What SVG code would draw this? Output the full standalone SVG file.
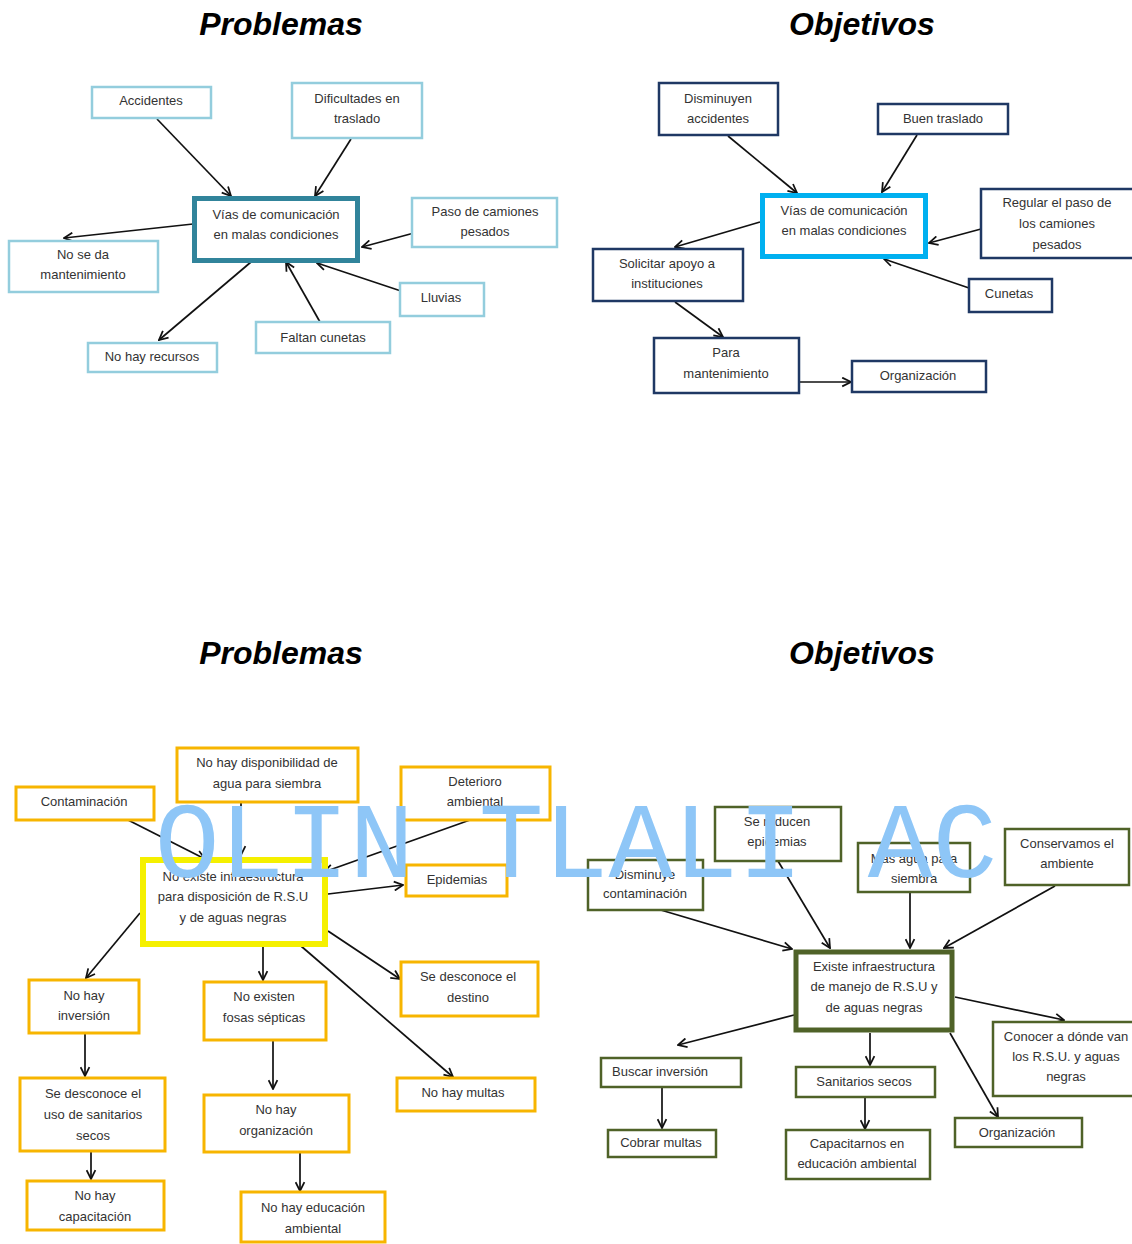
<svg xmlns="http://www.w3.org/2000/svg" width="1132" height="1244" viewBox="0 0 1132 1244">
<style>
.t{font-family:"Liberation Sans",Arial,sans-serif;font-size:13px;fill:#333;text-anchor:middle}
.h{font-family:"Liberation Sans",Arial,sans-serif;font-size:32px;font-weight:bold;font-style:italic;fill:#000;text-anchor:middle}
rect{fill:#fff}
.tl{stroke:#93cddd;stroke-width:2.5}
.tlc{stroke:#31849b;stroke-width:5}
.tr{stroke:#1f3864;stroke-width:2.5}
.trc{stroke:#00b0f0;stroke-width:5}
.bl{stroke:#f7b500;stroke-width:3}
.blc{stroke:#f5f000;stroke-width:6}
.br{stroke:#4f6228;stroke-width:2.5}
.brc{stroke:#4f6228;stroke-width:5}
.c line{stroke:#111;stroke-width:1.7;marker-end:url(#a)}
.wm{font-family:"Liberation Mono","Courier New",monospace;font-size:108px;fill:#8ec6f7;text-anchor:middle}
</style>
<defs>
<marker id="a" viewBox="0 0 10 10" refX="9" refY="5" markerWidth="11" markerHeight="11" markerUnits="userSpaceOnUse" orient="auto">
<path d="M1,1 L9,5 L1,9" fill="none" stroke="#111" stroke-width="1.6"/>
</marker>
</defs>
<rect x="0" y="0" width="1132" height="1244" style="fill:#fff"/>
<text class="h" x="281" y="35">Problemas</text>
<text class="h" x="862" y="35">Objetivos</text>
<text class="h" x="281" y="664">Problemas</text>
<text class="h" x="862" y="664">Objetivos</text>

<g class="c" id="connectors">
<line x1="157" y1="119" x2="231" y2="196"/>
<line x1="351" y1="139" x2="315" y2="196"/>
<line x1="193" y1="224" x2="64" y2="238"/>
<line x1="414" y1="233" x2="362" y2="247"/>
<line x1="401" y1="291" x2="317" y2="263"/>
<line x1="320" y1="322" x2="286" y2="262"/>
<line x1="251" y1="262" x2="159" y2="340"/>

<line x1="728" y1="136" x2="797" y2="193"/>
<line x1="917" y1="135" x2="882" y2="192"/>
<line x1="760" y1="222" x2="675" y2="247"/>
<line x1="981" y1="229" x2="929" y2="243"/>
<line x1="969" y1="288" x2="884" y2="259"/>
<line x1="675" y1="302" x2="723" y2="337"/>
<line x1="799" y1="382" x2="851" y2="382"/>

<line x1="128" y1="820" x2="205" y2="859"/>
<line x1="241" y1="802" x2="241" y2="855"/>
<line x1="470" y1="820" x2="324" y2="872"/>
<line x1="328" y1="894" x2="403" y2="885"/>
<line x1="140" y1="913" x2="86" y2="978"/>
<line x1="263" y1="946" x2="263" y2="980"/>
<line x1="328" y1="931" x2="400" y2="979"/>
<line x1="301" y1="946" x2="453" y2="1077"/>
<line x1="85" y1="1033" x2="85" y2="1076"/>
<line x1="91" y1="1152" x2="91" y2="1179"/>
<line x1="273" y1="1041" x2="273" y2="1089"/>
<line x1="300" y1="1152" x2="300" y2="1191"/>

<line x1="654" y1="908" x2="792" y2="949"/>
<line x1="778" y1="861" x2="830" y2="948"/>
<line x1="910" y1="893" x2="910" y2="948"/>
<line x1="1055" y1="886" x2="944" y2="948"/>
<line x1="955" y1="997" x2="1064" y2="1020"/>
<line x1="794" y1="1015" x2="678" y2="1045"/>
<line x1="870" y1="1033" x2="870" y2="1065"/>
<line x1="950" y1="1033" x2="998" y2="1117"/>
<line x1="662" y1="1087" x2="662" y2="1128"/>
<line x1="865" y1="1097" x2="865" y2="1129"/>
</g>

<g id="p1-accidentes"><rect class="tl" x="92" y="87" width="119" height="31"/><text class="t" x="151" y="105">Accidentes</text></g>
<g id="p1-dificultades"><rect class="tl" x="292" y="83" width="130" height="55"/><text class="t" x="357" y="103">Dificultades en</text><text class="t" x="357" y="123">traslado</text></g>
<g id="p1-vias"><rect class="tlc" x="194.5" y="198.5" width="163" height="62"/><text class="t" x="276" y="219">Vías de comunicación</text><text class="t" x="276" y="239">en malas condiciones</text></g>
<g id="p1-paso"><rect class="tl" x="412" y="198" width="145" height="49"/><text class="t" x="485" y="216">Paso de camiones</text><text class="t" x="485" y="236">pesados</text></g>
<g id="p1-nosedamant"><rect class="tl" x="9" y="241" width="149" height="51"/><text class="t" x="83" y="259">No se da</text><text class="t" x="83" y="279">mantenimiento</text></g>
<g id="p1-lluvias"><rect class="tl" x="400" y="283" width="84" height="33"/><text class="t" x="441" y="302">Lluvias</text></g>
<g id="p1-faltan"><rect class="tl" x="256" y="322" width="134" height="31"/><text class="t" x="323" y="342">Faltan cunetas</text></g>
<g id="p1-recursos"><rect class="tl" x="88" y="343" width="129" height="29"/><text class="t" x="152" y="361">No hay recursos</text></g>

<g id="o1-disminuyen"><rect class="tr" x="659" y="83" width="119" height="52"/><text class="t" x="718" y="103">Disminuyen</text><text class="t" x="718" y="123">accidentes</text></g>
<g id="o1-buen"><rect class="tr" x="878" y="104" width="130" height="30"/><text class="t" x="943" y="123">Buen traslado</text></g>
<g id="o1-vias"><rect class="trc" x="762.5" y="195.5" width="163" height="61"/><text class="t" x="844" y="215">Vías de comunicación</text><text class="t" x="844" y="235">en malas condiciones</text></g>
<g id="o1-regular"><rect class="tr" x="981" y="189" width="160" height="69"/><text class="t" x="1057" y="207">Regular el paso de</text><text class="t" x="1057" y="228">los camiones</text><text class="t" x="1057" y="249">pesados</text></g>
<g id="o1-solicitar"><rect class="tr" x="593" y="249" width="150" height="52"/><text class="t" x="667" y="268">Solicitar apoyo a</text><text class="t" x="667" y="288">instituciones</text></g>
<g id="o1-cunetas"><rect class="tr" x="969" y="279" width="83" height="33"/><text class="t" x="1009" y="298">Cunetas</text></g>
<g id="o1-para"><rect class="tr" x="654" y="338" width="145" height="55"/><text class="t" x="726" y="357">Para</text><text class="t" x="726" y="378">mantenimiento</text></g>
<g id="o1-organizacion"><rect class="tr" x="852" y="361" width="134" height="31"/><text class="t" x="918" y="380">Organización</text></g>

<g id="p2-contaminacion"><rect class="bl" x="16" y="787" width="138" height="33"/><text class="t" x="84" y="806">Contaminación</text></g>
<g id="p2-agua"><rect class="bl" x="177" y="748" width="181" height="54"/><text class="t" x="267" y="767">No hay disponibilidad de</text><text class="t" x="267" y="788">agua para siembra</text></g>
<g id="p2-deterioro"><rect class="bl" x="401" y="767" width="149" height="53"/><text class="t" x="475" y="786">Deterioro</text><text class="t" x="475" y="806">ambiental</text></g>
<g id="p2-centro"><rect class="blc" x="143" y="860" width="182" height="84"/><text class="t" x="233" y="881">No existe infraestructura</text><text class="t" x="233" y="901">para disposición de R.S.U</text><text class="t" x="233" y="922">y de aguas negras</text></g>
<g id="p2-epidemias"><rect class="bl" x="406" y="865" width="101" height="31"/><text class="t" x="457" y="884">Epidemias</text></g>
<g id="p2-destino"><rect class="bl" x="401" y="962" width="137" height="54"/><text class="t" x="468" y="981">Se desconoce el</text><text class="t" x="468" y="1002">destino</text></g>
<g id="p2-inversion"><rect class="bl" x="29" y="980" width="110" height="53"/><text class="t" x="84" y="1000">No hay</text><text class="t" x="84" y="1020">inversión</text></g>
<g id="p2-fosas"><rect class="bl" x="204" y="982" width="122" height="58"/><text class="t" x="264" y="1001">No existen</text><text class="t" x="264" y="1022">fosas sépticas</text></g>
<g id="p2-uso"><rect class="bl" x="20" y="1078" width="145" height="73"/><text class="t" x="93" y="1098">Se desconoce el</text><text class="t" x="93" y="1119">uso de sanitarios</text><text class="t" x="93" y="1140">secos</text></g>
<g id="p2-capacitacion"><rect class="bl" x="27" y="1181" width="137" height="49"/><text class="t" x="95" y="1200">No hay</text><text class="t" x="95" y="1221">capacitación</text></g>
<g id="p2-organizacion"><rect class="bl" x="204" y="1095" width="145" height="57"/><text class="t" x="276" y="1114">No hay</text><text class="t" x="276" y="1135">organización</text></g>
<g id="p2-educacion"><rect class="bl" x="241" y="1192" width="144" height="50"/><text class="t" x="313" y="1212">No hay educación</text><text class="t" x="313" y="1233">ambiental</text></g>
<g id="p2-multas"><rect class="bl" x="397" y="1078" width="138" height="33"/><text class="t" x="463" y="1097">No hay multas</text></g>

<g id="o2-disminuye"><rect class="br" x="588" y="860" width="115" height="50"/><text class="t" x="645" y="879">Disminuye</text><text class="t" x="645" y="898">contaminación</text></g>
<g id="o2-reducen"><rect class="br" x="715" y="807" width="126" height="54"/><text class="t" x="777" y="826">Se reducen</text><text class="t" x="777" y="846">epidemias</text></g>
<g id="o2-agua"><rect class="br" x="858" y="843" width="112" height="49"/><text class="t" x="914" y="863">Mas agua para</text><text class="t" x="914" y="883">siembra</text></g>
<g id="o2-conservamos"><rect class="br" x="1005" y="829" width="124" height="56"/><text class="t" x="1067" y="848">Conservamos  el</text><text class="t" x="1067" y="868">ambiente</text></g>
<g id="o2-centro"><rect class="brc" x="796" y="952" width="156" height="78"/><text class="t" x="874" y="971">Existe infraestructura</text><text class="t" x="874" y="991">de manejo de R.S.U y</text><text class="t" x="874" y="1012">de aguas negras</text></g>
<g id="o2-conocer"><rect class="br" x="993" y="1022" width="141" height="74"/><text class="t" x="1066" y="1041">Conocer a dónde van</text><text class="t" x="1066" y="1061">los R.S.U. y aguas</text><text class="t" x="1066" y="1081">negras</text></g>
<g id="o2-buscar"><rect class="br" x="601" y="1058" width="140" height="29"/><text class="t" x="612" y="1076" style="text-anchor:start">Buscar inversión</text></g>
<g id="o2-cobrar"><rect class="br" x="608" y="1130" width="108" height="27"/><text class="t" x="661" y="1147">Cobrar multas</text></g>
<g id="o2-sanitarios"><rect class="br" x="796" y="1067" width="139" height="30"/><text class="t" x="864" y="1086">Sanitarios secos</text></g>
<g id="o2-capacitarnos"><rect class="br" x="786" y="1130" width="144" height="49"/><text class="t" x="857" y="1148">Capacitarnos en</text><text class="t" x="857" y="1168">educación ambiental</text></g>
<g id="o2-organizacion"><rect class="br" x="955" y="1118" width="127" height="29"/><text class="t" x="1017" y="1137">Organización</text></g>

<text class="wm" x="576" y="877">OLIN TLALI AC</text>
</svg>
